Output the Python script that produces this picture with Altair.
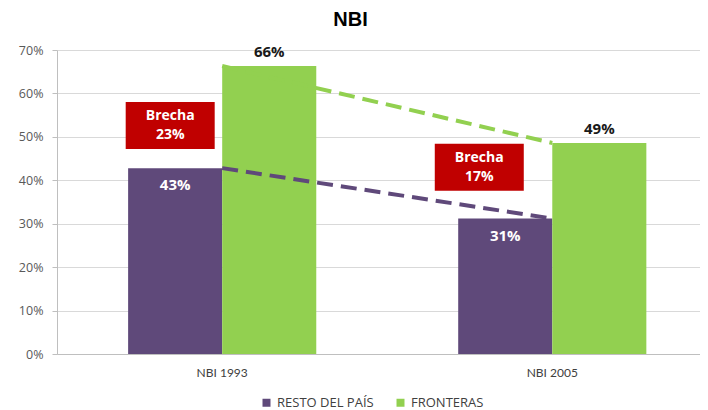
import altair as alt
import pandas as pd

categories = ["NBI 1993", "NBI 2005"]
series = ["RESTO DEL PAÍS", "FRONTERAS"]
resto_values = [42.8, 31.2]
fronteras_values = [66.3, 48.6]
resto_labels = ["43%", "31%"]
fronteras_labels = ["66%", "49%"]
gap_labels = ["Brecha\n23%", "Brecha\n17%"]
gap_low = [47.2, 37.6]
gap_high = [58.0, 48.4]

colors = ["#5F497A", "#92D050"]
FONT = "Lato"
LFONT = "Open Sans"

rows = []
for i, c in enumerate(categories):
    rows.append({"cat": c, "series": series[0], "value": resto_values[i], "label": resto_labels[i]})
    rows.append({"cat": c, "series": series[1], "value": fronteras_values[i], "label": fronteras_labels[i]})
df = pd.DataFrame(rows)

gaps = pd.DataFrame({"cat": categories, "label": gap_labels, "low": gap_low, "high": gap_high})

xscale = alt.Scale(domain=categories, paddingInner=0.43, paddingOuter=0.189, align=0.57)
xenc = alt.X("cat:N", scale=xscale, sort=categories,
             axis=alt.Axis(title=None, labelAngle=0, ticks=False, labelFont=FONT, labelFontSize=12,
                           labelColor="#404040", labelPadding=13, domainColor="#BFBFBF"))
yscale = alt.Scale(domain=[0, 70], nice=False)
yenc = alt.Y("value:Q", scale=yscale,
             axis=alt.Axis(title=None, values=[0, 10, 20, 30, 40, 50, 60, 70],
                           labelExpr="datum.value + '%'", labelFont=LFONT, labelFontSize=12.5,
                           labelColor="#595959", labelPadding=9, tickSize=5, tickColor="#BFBFBF",
                           domainColor="#BFBFBF", gridColor="#D9D9D9"))
xoff = alt.XOffset("series:N", sort=series, scale=alt.Scale(domain=series, paddingInner=0))

base = alt.Chart(df)

bars = base.mark_bar().encode(
    x=xenc, y=yenc, xOffset=xoff,
    color=alt.Color("series:N", sort=series, scale=alt.Scale(domain=series, range=colors),
                    legend=alt.Legend(title=None, orient="none", direction="horizontal",
                                      legendX=203, legendY=346, symbolType="square", symbolSize=64,
                                      labelFont=LFONT, labelFontSize=13, labelColor="#404040",
                                      labelOffset=4, columnPadding=20, symbolStrokeWidth=0)),
)

lines = base.mark_line(strokeDash=[16, 8], strokeWidth=4).encode(
    x=alt.X("cat:N", scale=xscale, sort=categories),
    y=alt.Y("value:Q", scale=yscale),
    detail="series:N",
    stroke=alt.Stroke("series:N", sort=series, scale=alt.Scale(domain=series, range=["#5F497A", "#92D050"]),
                      legend=None),
)

top_labels = base.transform_filter(alt.datum.series == series[1]).mark_text(
    font=LFONT, fontWeight="bold", fontSize=15, color="#1a1a1a", dy=-14, baseline="middle"
).encode(x=alt.X("cat:N", scale=xscale, sort=categories), xOffset=xoff,
         y=alt.Y("value:Q", scale=yscale), text="label:N")

in_labels = base.transform_filter(alt.datum.series == series[0]).mark_text(
    font=LFONT, fontWeight="bold", fontSize=15, color="white", dy=17, baseline="middle"
).encode(x=alt.X("cat:N", scale=xscale, sort=categories), xOffset=xoff,
         y=alt.Y("value:Q", scale=yscale), text="label:N")

gap_layers = []
for cat, off in zip(categories, [-52, -73]):
    g = alt.Chart(gaps).transform_filter(alt.datum.cat == cat)
    rect = g.mark_rect(color="#C00000", width=89, xOffset=off).encode(
        x=alt.X("cat:N", scale=xscale, sort=categories),
        y=alt.Y("low:Q", scale=yscale), y2="high:Q")
    txt = g.transform_calculate(mid="(datum.low + datum.high) / 2").mark_text(
        font=LFONT, fontWeight="bold", fontSize=14, color="white", lineBreak="\n",
        lineHeight=19, baseline="middle", dx=off, dy=-9.5).encode(
        x=alt.X("cat:N", scale=xscale, sort=categories),
        y=alt.Y("mid:Q", scale=yscale), text="label:N")
    gap_layers += [rect, txt]

chart = alt.layer(bars, lines, top_labels, in_labels, *gap_layers).properties(
    width=643, height=304,
    title=alt.TitleParams("NBI", font="Liberation Sans", fontSize=20, fontWeight="bold",
                          color="#000000", anchor="middle", dx=-28, offset=14),
    autosize=alt.AutoSizeParams(type="none"),
    padding={"left": 49, "top": 42, "right": 0, "bottom": 56},
).configure_view(stroke=None).configure_axisX(grid=False)

chart.save("out.html", embed_options={"renderer": "svg", "actions": False})
